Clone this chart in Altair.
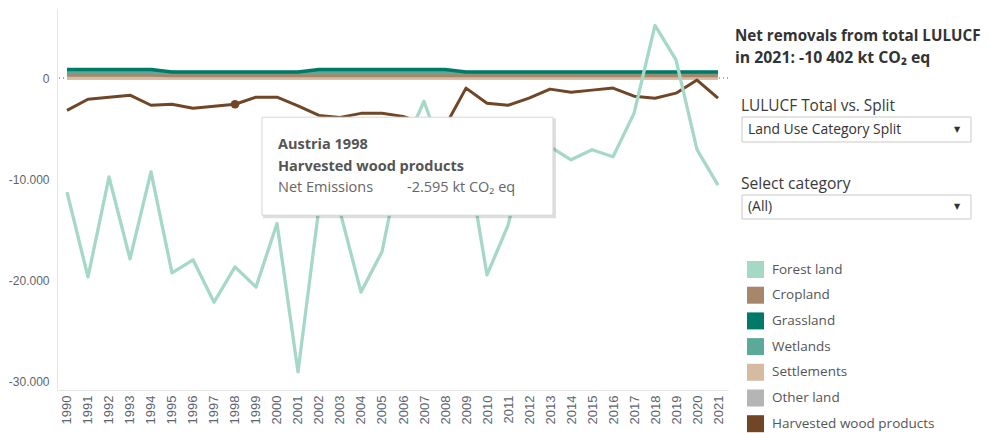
import altair as alt
import pandas as pd

years = [str(y) for y in range(1990, 2022)]

categories = ["Forest land", "Cropland", "Grassland", "Wetlands",
              "Settlements", "Other land", "Harvested wood products"]
colors = ["#A6D8C6", "#A8866A", "#007A68", "#5BAA99",
          "#D5BBA2", "#B5B5B5", "#714626"]

# Net emissions, kt CO2 eq
forest_land = [-11300, -19700, -9800, -17900, -9300, -19300, -18000, -22200,
               -18700, -20700, -14400, -29100, -12800, -13200, -21200, -17200,
               -7000, -2300, -8200, -7000, -19500, -14600, -6100, -6800,
               -8100, -7100, -7800, -3500, 5200, 1800, -7100, -10600]
cropland = [300, 300, 300, 300, 300, 250, 250, 250, 250, 250, 250, 250, 250,
            250, 250, 250, 250, 250, 250, 250, 250, 250, 250, 250, 250, 250,
            250, 250, 250, 250, 250, 250]
grassland = [850, 850, 850, 850, 850, 600, 600, 600, 600, 600, 600, 600, 850,
             850, 850, 850, 850, 850, 850, 600, 600, 600, 600, 600, 600, 600,
             600, 600, 600, 600, 600, 600]
wetlands = [550, 550, 550, 550, 550, 550, 550, 550, 550, 550, 550, 550,
            550, 550, 550, 550, 550, 550, 550, 550, 550, 550, 550, 550,
            550, 550, 550, 550, 550, 550, 550, 550]
settlements = [50, 50, 50, 50, 50, 50, 50, 50, 50, 50, 50, 50, 50, 50, 50, 50,
               50, 50, 50, 50, 50, 50, 50, 50, 50, 50, 50, 50, 50, 50, 50, 50]
other_land = [0, 0, 0, 0, 0, 0, 0, 0, 0, 0, 0, 0, 0, 0, 0, 0,
              0, 0, 0, 0, 0, 0, 0, 0, 0, 0, 0, 0, 0, 0, 0, 0]
harvested_wood = [-3200, -2100, -1900, -1700, -2700, -2600, -3000, -2800,
                  -2595, -1900, -1900, -2750, -3700, -3900, -3500, -3500,
                  -3800, -4500, -4800, -1000, -2500, -2700, -2000, -1100,
                  -1400, -1200, -1000, -1800, -2000, -1500, -200, -2000]

y_ticks = [0, -10000, -20000, -30000]
tooltip_year = "1998"
tooltip_country = "Austria"
tooltip_category = "Harvested wood products"
total_2021 = "-10 402"

series = {
    "Forest land": forest_land,
    "Cropland": cropland,
    "Grassland": grassland,
    "Wetlands": wetlands,
    "Settlements": settlements,
    "Other land": other_land,
    "Harvested wood products": harvested_wood,
}
rows = []
for cat, vals in series.items():
    for yr, v in zip(years, vals):
        rows.append({"Year": yr, "Value": v, "Category": cat})
df = pd.DataFrame(rows)

FONT = "Open Sans"
AXFONT = "Liberation Sans"

X = alt.X("Year:O",
          scale=alt.Scale(type="point", domain=years, padding=0.476),
          axis=alt.Axis(title=None, labelAngle=270, ticks=False,
                        labelFont=AXFONT, labelFontSize=13, labelColor="#5d6470",
                        labelPadding=5, domainColor="#e6e6e6", grid=False))
Y = alt.Y("Value:Q",
          scale=alt.Scale(domain=[-30891, 6931], nice=False, zero=False),
          axis=alt.Axis(title=None, values=y_ticks, ticks=False, grid=False,
                        labelFont=AXFONT, labelFontSize=12, labelColor="#5d6470",
                        labelPadding=8, domainColor="#e6e6e6",
                        labelExpr="datum.value == 0 ? '0' : '-' + replace(format(abs(datum.value), ',.0f'), ',', '.')"))
C = alt.Color("Category:N",
              scale=alt.Scale(domain=categories, range=colors), legend=None)

zero = alt.Chart(pd.DataFrame({"Value": [0]})).mark_rule(
    color="#555", strokeDash=[1, 3], strokeWidth=1.2).encode(y=Y)

band_parts = []
for cat in ["Other land", "Settlements", "Cropland", "Wetlands", "Grassland"]:
    band_parts.append(alt.Chart(df[df.Category == cat]).mark_line(
        strokeWidth=3.5, strokeJoin="round").encode(x=X, y=Y, color=C))

hwp = alt.Chart(df[df.Category == "Harvested wood products"]).mark_line(
    strokeWidth=3, strokeJoin="round").encode(x=X, y=Y, color=C)

forest = alt.Chart(df[df.Category == "Forest land"]).mark_line(
    strokeWidth=3.3, strokeJoin="round").encode(x=X, y=Y, color=C)

sel = df[(df.Category == tooltip_category) & (df.Year == tooltip_year)]
dot = alt.Chart(sel).mark_point(filled=True, size=75, opacity=1).encode(
    x=X, y=Y, color=C)

legend_layer = alt.Chart(df).mark_square(opacity=0, filled=True).encode(
    x=X, y=Y,
    color=alt.Color("Category:N",
                    scale=alt.Scale(domain=categories, range=colors),
                    legend=alt.Legend(title=None, orient="none", legendX=690,
                                      legendY=253, symbolType="square",
                                      symbolSize=289, symbolOpacity=1,
                                      symbolStrokeWidth=0, labelFont=FONT,
                                      labelFontSize=13.5, labelColor="#555",
                                      labelOffset=8, rowPadding=8.7,
                                      padding=0, labelLimit=250)))

# tooltip anchored at the selected point
v = int(sel.Value.iloc[0])
val_txt = ("-" if v < 0 else "") + f"{abs(v):,}".replace(",", ".")
tt = sel.assign(l1=f"{tooltip_country} {tooltip_year}", l2=tooltip_category,
                l3="Net Emissions", l4=f"{val_txt} kt CO\u2082 eq")
tt_shadow = alt.Chart(tt).mark_rect(width=293, height=100, xOffset=174.5,
                                    yOffset=64, fill="#000", opacity=0.13).encode(x=X, y=Y)
tt_box = alt.Chart(tt).mark_rect(width=291, height=98, xOffset=172.5, yOffset=62,
                                 fill="white", stroke="#d6d6d6").encode(x=X, y=Y)
tt1 = alt.Chart(tt).mark_text(align="left", baseline="middle", dx=43, dy=41,
                              font=FONT, fontSize=14.5, fontWeight="bold",
                              color="#555").encode(x=X, y=Y, text="l1:N")
tt2 = alt.Chart(tt).mark_text(align="left", baseline="middle", dx=43, dy=63,
                              font=FONT, fontSize=14.5, fontWeight="bold",
                              color="#555").encode(x=X, y=Y, text="l2:N")
tt3 = alt.Chart(tt).mark_text(align="left", baseline="middle", dx=43, dy=84,
                              font=FONT, fontSize=14.5, color="#666").encode(
    x=X, y=Y, text="l3:N")
tt4 = alt.Chart(tt).mark_text(align="left", baseline="middle", dx=172, dy=84,
                              font=FONT, fontSize=14.5, color="#666").encode(
    x=X, y=Y, text="l4:N")


def label(text, x, y, size, weight="normal", color="#333", font=FONT):
    return alt.Chart(pd.DataFrame({"t": [text]})).mark_text(
        align="left", baseline="middle", fontSize=size, fontWeight=weight,
        color=color, font=font).encode(x=alt.value(x), y=alt.value(y), text="t:N")


def box(x1, x2, y1, y2):
    return alt.Chart(pd.DataFrame({"a": [0]})).mark_rect(
        fill="white", stroke="#c9c9c9").encode(
        x=alt.value(x1), x2=alt.value(x2), y=alt.value(y1), y2=alt.value(y2))


panel = [
    label("Net removals from total LULUCF", 678, 28, 15.2, "bold", "#333"),
    label(f"in 2021: {total_2021} kt CO\u2082 eq", 678, 50, 15.8, "bold", "#333"),
    label("LULUCF Total vs. Split", 684, 98, 15.4, "normal", "#3a3a3a"),
    box(685, 914, 109, 134),
    label("Land Use Category Split", 691, 122, 13.9, "normal", "#333"),
    label("\u25BC", 897, 122, 8, "normal", "#333", "DejaVu Sans"),
    label("Select category", 684, 176, 15.6, "normal", "#3a3a3a"),
    box(685, 914, 187, 211),
    label("(All)", 691, 199, 13.9, "normal", "#333"),
    label("\u25BC", 897, 199, 8, "normal", "#333", "DejaVu Sans"),
    alt.Chart(pd.DataFrame({"a": [0]})).mark_rule(color="#e2e2e2").encode(
        x=alt.value(930), y=alt.value(-8), y2=alt.value(420)),
]

chart = alt.layer(
    zero, *band_parts, hwp, forest, dot, legend_layer,
    tt_shadow, tt_box, tt1, tt2, tt3, tt4, *panel
).resolve_legend(color="independent").properties(
    width=671, height=382,
    padding={"left": 49, "top": 0, "right": 253, "bottom": 43},
    autosize=alt.AutoSizeParams(type="none"),
).configure_view(stroke=None)

chart.save("out.html", embed_options={"renderer": "svg", "actions": False})
